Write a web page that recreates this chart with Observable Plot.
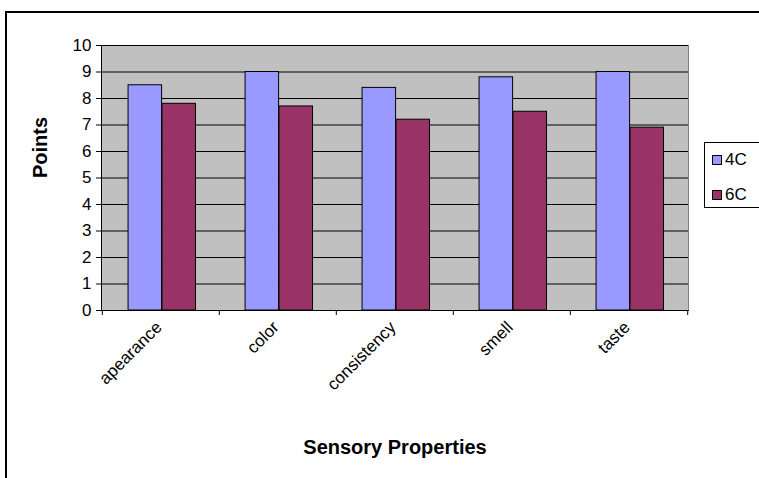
<!DOCTYPE html>
<html><head>
<meta charset="utf-8">
<script src="https://cdn.jsdelivr.net/npm/d3@7"></script>
<script src="https://cdn.jsdelivr.net/npm/@observablehq/plot@0.6"></script>
<style>
body{margin:0;overflow:hidden;background:#fff;font-family:"Liberation Sans",Arial,sans-serif;}
#wrap{position:relative;width:759px;height:478px;overflow:hidden;}
#frame{position:absolute;left:5px;top:11px;width:800px;height:520px;border:2px solid #000;box-sizing:border-box;}
#chart{position:absolute;left:0;top:0;}
#legend{position:absolute;left:704px;top:142px;width:80px;height:66px;border:1px solid #000;background:#fff;box-sizing:border-box;font-size:17px;}
.item{position:absolute;left:7px;display:flex;align-items:center;height:20px;}
.sw{width:8px;height:8px;border:1px solid #000;margin-right:3px;}
</style></head><body>
<div id="wrap"><div id="frame"></div><div id="chart"></div><div id="legend"></div></div>
<script>
const categories = ["apearance", "color", "consistency", "smell", "taste"];
const series = ["4C", "6C"];
const values4C = [8.5, 9.0, 8.4, 8.8, 9.0];
const values6C = [7.8, 7.7, 7.2, 7.5, 6.9];
const yTicks = [0, 1, 2, 3, 4, 5, 6, 7, 8, 9, 10];
const colors = ["#9999FF", "#993366"];

const d4 = categories.map((c, i) => ({category: c, value: values4C[i]}));
const d6 = categories.map((c, i) => ({category: c, value: values6C[i]}));

const W = 759, H = 478, mL = 101, mR = 71, mT = 45, mB = 168;
const bw = (W - mL - mR) / categories.length;

const chart = Plot.plot({
  width: W, height: H,
  marginLeft: mL, marginRight: mR, marginTop: mT, marginBottom: mB,
  style: {fontFamily: "'Liberation Sans', Arial, sans-serif", fontSize: "17px", color: "#000", background: "transparent"},
  x: {type: "band", domain: categories, padding: 0, axis: null},
  y: {domain: [0, 10], axis: null},
  marks: [
    Plot.frame({fill: "#C0C0C0", stroke: "#808080"}),
    Plot.gridY(yTicks, {stroke: "#000", strokeOpacity: 1}),
    Plot.barY(d4, {x: "category", y: "value", fill: colors[0], stroke: "#000", insetLeft: bw * 0.222, insetRight: bw * 0.489}),
    Plot.barY(d6, {x: "category", y: "value", fill: colors[1], stroke: "#000", insetLeft: bw * 0.511, insetRight: bw * 0.2}),
    Plot.frame({anchor: "left", stroke: "#000"}),
    Plot.frame({anchor: "bottom", stroke: "#000"}),
    Plot.axisY(yTicks, {tickSize: 5, tickPadding: 5, fontSize: 17, label: null, stroke: "#000"}),
    Plot.axisX({tickSize: 5, tickFormat: () => "", dx: -bw / 2, label: null, stroke: "#000"}),
    Plot.axisX([categories[categories.length - 1]], {tickSize: 5, tickFormat: () => "", dx: bw / 2, label: null, stroke: "#000"}),
    Plot.axisX({tickSize: 0, tickPadding: 14, tickRotate: -45, fontSize: 17, label: null, dx: -2}),
    Plot.text(["Points"], {frameAnchor: "left", dx: -61, rotate: -90, fontWeight: "bold", fontSize: 20}),
    Plot.text(["Sensory Properties"], {frameAnchor: "bottom", dy: 143, fontWeight: "bold", fontSize: 20})
  ]
});
document.getElementById("chart").appendChild(chart);

const legend = document.getElementById("legend");
series.forEach((s, i) => {
  const it = document.createElement("div");
  it.className = "item";
  it.style.top = (i === 0 ? 7 : 42) + "px";
  const sw = document.createElement("div");
  sw.className = "sw";
  sw.style.background = colors[i];
  const t = document.createElement("span");
  t.textContent = s;
  it.appendChild(sw); it.appendChild(t);
  legend.appendChild(it);
});
</script>
</body></html>
